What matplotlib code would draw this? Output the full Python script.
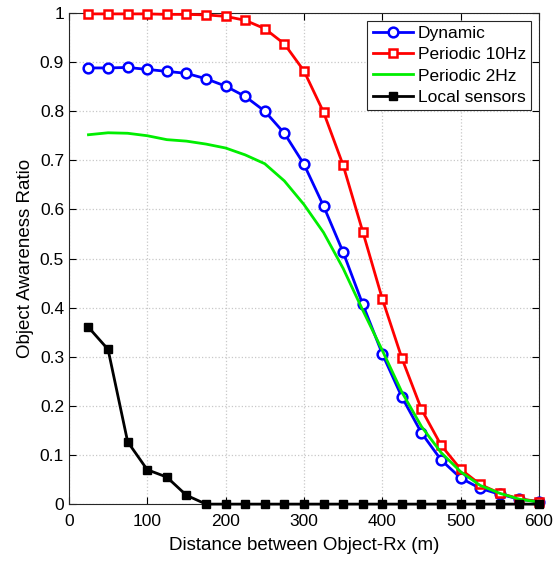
import numpy as np
import matplotlib
matplotlib.use("Agg")
import matplotlib.pyplot as plt

plt.rcParams['font.family'] = ['Liberation Sans', 'DejaVu Sans']

x = np.arange(25, 601, 25)
dynamic = [0.888, 0.888, 0.889, 0.885, 0.881, 0.877, 0.866, 0.851, 0.830, 0.800, 0.755, 0.692,
           0.607, 0.513, 0.407, 0.306, 0.218, 0.145, 0.090, 0.053, 0.032, 0.020, 0.010, 0.005]
periodic10 = [0.998, 0.998, 0.998, 0.998, 0.997, 0.997, 0.996, 0.993, 0.985, 0.968, 0.937, 0.882,
              0.798, 0.690, 0.555, 0.418, 0.297, 0.193, 0.120, 0.071, 0.040, 0.022, 0.011, 0.005]
periodic2 = [0.752, 0.756, 0.755, 0.750, 0.742, 0.739, 0.733, 0.725, 0.711, 0.693, 0.658, 0.610,
             0.553, 0.480, 0.395, 0.313, 0.228, 0.158, 0.105, 0.066, 0.038, 0.022, 0.010, 0.004]
local = [0.360, 0.315, 0.127, 0.070, 0.055, 0.018, 0, 0, 0, 0, 0, 0,
         0, 0, 0, 0, 0, 0, 0, 0, 0, 0, 0, 0]

fig = plt.figure(figsize=(5.6, 5.62), dpi=100)
ax = fig.add_axes([0.123, 0.103, 0.8395, 0.874])

ax.plot(x, dynamic, color="blue", lw=2, marker="o", ms=7, mfc="white", mew=1.8,
        label="Dynamic", clip_on=False, zorder=3)
ax.plot(x, periodic10, color="red", lw=2, marker="s", ms=6, mfc="white", mew=1.8,
        label="Periodic 10Hz", clip_on=False, zorder=3)
ax.plot(x, periodic2, color="#00ee00", lw=2, label="Periodic 2Hz", zorder=3)
ax.plot(x, local, color="black", lw=2, marker="s", ms=6, label="Local sensors",
        clip_on=False, zorder=3)

ax.set_xlim(0, 600)
ax.set_ylim(0, 1)
ax.set_xticks(np.arange(0, 601, 100))
ax.set_yticks(np.arange(0, 1.01, 0.1))
ax.set_yticklabels(["0", "0.1", "0.2", "0.3", "0.4", "0.5", "0.6", "0.7", "0.8", "0.9", "1"])
ax.grid(True, color="#c8c8c8", linestyle=":", lw=0.9)
ax.tick_params(direction="in", top=True, right=True, labelsize=12.5, length=5)
ax.tick_params(axis="x", pad=7)
for s in ax.spines.values():
    s.set_color("#262626")
ax.set_xlabel("Distance between Object-Rx (m)", fontsize=13.5, labelpad=6)
ax.set_ylabel("Object Awareness Ratio", fontsize=13.5)

leg = ax.legend(loc="upper right", fontsize=12.5, fancybox=False, edgecolor="#262626",
                framealpha=1, borderpad=0.3, labelspacing=0.35, handlelength=2.3, handletextpad=0.3,
                borderaxespad=0.45)
leg.get_frame().set_linewidth(0.8)

fig.savefig("out.png", dpi=100)
